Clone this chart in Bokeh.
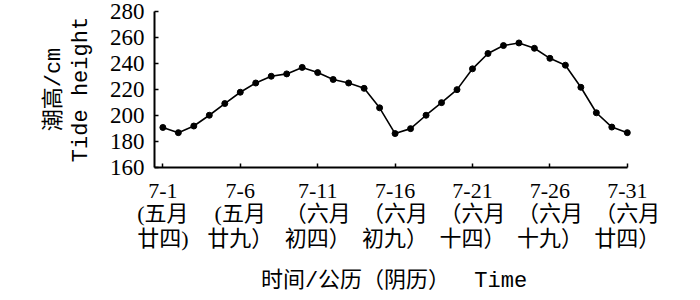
from bokeh.plotting import figure
from bokeh.models import Range1d, FixedTicker, LinearAxis
from bokeh.embed import file_html
from bokeh.resources import INLINE

# ---- data ----
days = list(range(1, 32))
tide_height = [190.8, 186.8, 191.9, 200.2, 209.2, 217.9, 225.0, 230.2, 232.0, 237.0,
               233.0, 227.7, 225.0, 220.9, 205.9, 186.1, 189.9, 200.2, 209.9, 219.9,
               235.9, 247.7, 253.8, 255.8, 251.7, 244.0, 238.7, 221.7, 202.1, 191.1, 186.8]
x_ticks = [1, 6, 11, 16, 21, 26, 31]
solar_dates = ["7-1", "7-6", "7-11", "7-16", "7-21", "7-26", "7-31"]
lunar_months = ["(五月", "(五月", "（六月", "（六月", "（六月", "（六月", "（六月"]
lunar_days = ["廿四)", "廿九）", "初四）", "初九）", "十四）", "十九）", "廿四）"]
y_ticks = [160, 180, 200, 220, 240, 260, 280]
y_label = "潮高/cm\nTide height"
x_label = "时间/公历（阴历）　 Time"

SERIF = "'Liberation Serif', 'Noto Sans CJK SC'"
MONO = "'Liberation Mono', 'Noto Sans CJK SC'"

x_start, x_end = 0.46, 31.4

p = figure(width=692, height=299, output_backend="svg", toolbar_location=None,
           x_range=Range1d(x_start, x_end), y_range=Range1d(160, 280),
           x_axis_location=None,
           min_border_left=154, min_border_right=59, min_border_top=11, min_border_bottom=132)

p.outline_line_color = None
p.xgrid.grid_line_color = None
p.ygrid.grid_line_color = None
p.background_fill_color = "white"
p.border_fill_color = "white"

p.line(days, tide_height, line_color="black", line_width=1.6)
p.scatter(days, tide_height, size=6, fill_color="black", line_color="black")


def style_axis(ax, font):
    ax.axis_line_color = "black"
    ax.axis_line_width = 2
    ax.major_tick_line_color = "black"
    ax.major_tick_line_width = 1.5
    ax.major_tick_in = 4
    ax.major_tick_out = 0
    ax.minor_tick_line_color = None
    ax.major_label_text_color = "black"
    ax.major_label_text_font_size = "22px"
    ax.major_label_text_font = font
    ax.axis_label_text_color = "black"
    ax.axis_label_text_font_style = "normal"


# main x axis: solar dates
xa1 = LinearAxis(ticker=FixedTicker(ticks=x_ticks),
                 major_label_overrides={t: s for t, s in zip(x_ticks, solar_dates)})
style_axis(xa1, SERIF)
xa1.bounds = (x_start, 31)
xa1.major_label_standoff = 16
p.add_layout(xa1, "below")

# second row: lunar month
xa2 = LinearAxis(ticker=FixedTicker(ticks=x_ticks),
                 major_label_overrides={t: s for t, s in zip(x_ticks, lunar_months)})
style_axis(xa2, SERIF)
xa2.axis_line_color = None
xa2.major_tick_line_color = None
xa2.major_label_standoff = 0
p.add_layout(xa2, "below")

# third row: lunar day + axis title
xa3 = LinearAxis(ticker=FixedTicker(ticks=x_ticks),
                 major_label_overrides={t: s for t, s in zip(x_ticks, lunar_days)})
style_axis(xa3, SERIF)
xa3.axis_line_color = None
xa3.major_tick_line_color = None
xa3.major_label_standoff = -3
xa3.axis_label = x_label
xa3.axis_label_text_font = MONO
xa3.axis_label_text_font_size = "22px"
xa3.axis_label_standoff = 15
p.add_layout(xa3, "below")

ya = p.yaxis[0]
style_axis(ya, SERIF)
ya.major_label_text_font_size = "23px"
ya.ticker = FixedTicker(ticks=y_ticks)
ya.major_label_standoff = 10
ya.axis_label = y_label
ya.axis_label_text_font = MONO
ya.axis_label_text_font_size = "22px"
ya.axis_label_text_line_height = 1.1
ya.axis_label_standoff = 13

open("out.html", "w").write(file_html(p, INLINE))
